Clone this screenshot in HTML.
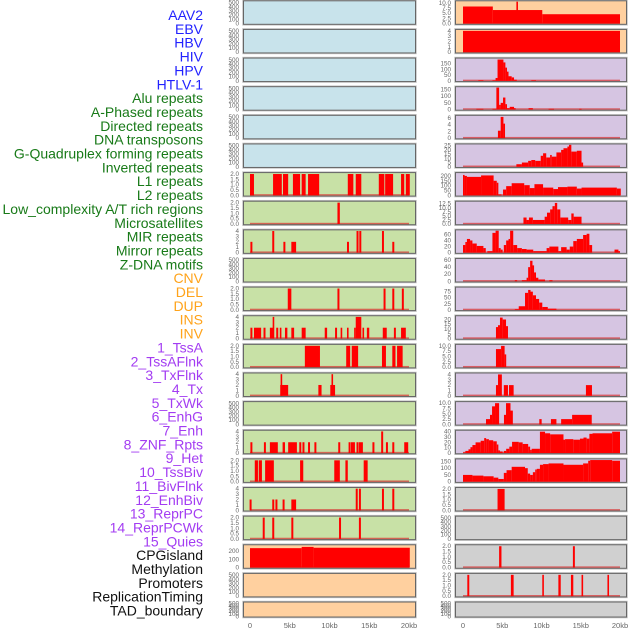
<!DOCTYPE html>
<html><head><meta charset="utf-8">
<style>
html,body{margin:0;padding:0;background:#fff;}
svg{display:block;}
.lbl{font-family:"Liberation Sans",sans-serif;font-size:14px;}
.tk{font-family:"Liberation Sans",sans-serif;font-size:6.3px;fill:#666;}
.xt{font-family:"Liberation Sans",sans-serif;font-size:7.5px;fill:#666;}
</style></head>
<body>
<svg id="chart" width="630" height="630" viewBox="0 0 630 630" xmlns="http://www.w3.org/2000/svg"></svg>
<script>
// ---- labels ----
const trackLabels = ["AAV2","EBV","HBV","HIV","HPV","HTLV-1","Alu repeats","A-Phased repeats","Directed repeats","DNA transposons","G-Quadruplex forming repeats","Inverted repeats","L1 repeats","L2 repeats","Low_complexity A/T rich regions","Microsatellites","MIR repeats","Mirror repeats","Z-DNA motifs","CNV","DEL","DUP","INS","INV","1_TssA","2_TssAFlnk","3_TxFlnk","4_Tx","5_TxWk","6_EnhG","7_Enh","8_ZNF_Rpts","9_Het","10_TssBiv","11_BivFlnk","12_EnhBiv","13_ReprPC","14_ReprPCWk","15_Quies","CPGisland","Methylation","Promoters","ReplicationTiming","TAD_boundary"];
const labelGroups = [6,13,5,15,5];
const xTickLabels = ["0","5kb","10kb","15kb","20kb"];
const xTickValues = [0,5,10,15,20];

// ---- left column data: [startKb, endKb, value] ----
const L6 = [[0,0.5,2],[2.9,4.0,2],[4.15,4.8,2],[5.4,6.3,2],[6.5,7.0,2],[7.3,8.7,2],[12.3,13.0,2],[13.3,14.0,2],[16.2,16.9,2],[17.0,18.0,2],[19.0,19.4,2],[19.6,20.1,2]];
const L7 = [[11.0,11.3,2]];
const L8 = [[0.05,0.3,2],[2.8,3.05,4],[4.2,4.45,2],[5.2,5.8,2],[12.2,12.45,2],[13.4,13.65,4],[13.75,14.0,4],[16.6,16.85,4],[17.9,18.15,2]];
const L10 = [[4.75,5.2,2],[11.0,11.25,2],[16.8,17.05,2],[17.9,18.15,2],[19.1,19.35,2]];
const L11 = [[0.05,0.3,2],[0.5,1.4,2],[1.7,1.95,2],[2.5,3.0,2],[2.85,3.05,4],[3.3,3.55,2],[3.75,3.95,2],[4.4,4.7,2],[5.2,5.55,2],[6.5,7.0,2],[9.4,9.7,2],[10.7,10.95,2],[11.4,11.6,2],[12.2,12.4,2],[13.1,13.3,2],[13.3,14.0,4],[14.15,14.35,2],[14.7,15.0,2],[16.7,17.2,2],[18.1,18.35,2],[19.0,19.6,2]];
const L12 = [[6.9,8.8,2],[12.1,12.6,2],[12.8,13.6,2],[16.6,17.1,2],[17.9,18.3,2],[18.5,19.2,2]];
const L13 = [[3.8,4.8,2],[3.85,4.05,4],[8.6,9.0,2],[10.1,10.7,2],[10.25,10.45,4]];
const L15 = [[0.05,0.3,2],[1.75,2.0,2],[2.5,3.5,2],[4.1,4.4,2],[4.8,5.9,2],[6.2,6.45,2],[6.6,6.85,2],[7.3,7.55,2],[8.1,8.35,2],[11.1,11.35,2],[12.4,12.65,2],[12.7,13.2,2],[13.4,13.65,2],[13.7,14.2,2],[15.4,15.65,2],[16.5,16.75,4],[17.1,17.35,2],[17.9,18.15,2],[19.4,19.9,2]];
const L16 = [[0.6,1.0,2],[1.1,1.5,2],[1.9,3.0,2],[6.3,6.7,2],[10.6,11.3,2],[12.0,12.3,2],[14.3,14.8,2]];
const L17 = [[-0.05,0.2,2],[2.8,3.05,2],[3.2,3.45,2],[4.1,4.35,2],[5.2,5.8,2],[13.3,13.55,4],[13.7,13.95,4],[16.6,16.85,4],[17.9,18.15,4]];
const L18 = [[1.6,1.85,2],[2.8,3.05,2],[5.2,5.45,2],[11.2,11.45,2],[13.7,13.95,2]];
const L19 = [[0,6.5,235],[6.5,8.0,250],[8.0,20.1,240]];

// ---- right column data ----
const R0 = [[0,3.8,8.2],[3.8,10.1,6.5],[6.8,7.0,10.5],[10.1,20,4.5]];
const R1 = [[0,20,4]];
const R2 = [[1.95,2.6,5],[3.75,4.15,5],[4.15,4.4,25],[4.4,5.15,185],[5.15,5.4,160],[5.4,5.55,115],[5.55,5.8,80],[5.8,6.2,40],[6.2,6.5,30],[6.5,6.85,10],[8.7,9.3,5]];
const R3 = [[1.7,2.6,5],[3.75,4.25,5],[4.25,4.6,165],[4.6,4.8,35],[4.8,5.1,50],[5.1,5.4,90],[5.4,5.6,40],[5.6,5.95,10],[5.95,6.5,20],[6.5,6.7,10],[8.35,8.9,10],[10.9,11.6,5],[14.8,15.1,5]];
const R4 = [[4.45,4.8,2.2],[4.8,5.15,6.3],[5.15,5.3,4.3]];
const R5 = [[6.8,7.5,3],[7.5,8.3,5],[8.3,8.7,7],[8.7,9.2,8],[9.2,9.9,7],[9.9,10.2,13],[10.2,10.6,16],[10.6,11.1,11],[11.1,11.3,14],[11.3,11.9,12],[11.9,12.5,17],[12.5,12.8,20],[12.8,13.3,22],[13.3,13.5,24],[13.5,13.8,26],[13.8,14.5,18],[14.5,15.1,19],[15.1,15.3,5]];
const R6 = [[0,0.2,210],[0.2,0.5,200],[0.5,2.3,190],[2.3,3.9,205],[3.9,4.3,150],[4.3,4.5,130],[4.5,4.9,10],[5.1,5.5,60],[5.5,6.2,95],[6.2,7.8,125],[7.8,8.5,105],[8.5,9.1,75],[9.1,10.2,115],[10.2,11.5,80],[11.5,12.1,65],[12.1,13.3,85],[13.3,14.5,90],[14.5,15.1,70],[15.1,19.6,80],[19.6,20.1,70]];
const R7 = [[7.7,8.1,4],[8.1,8.4,2.5],[8.4,8.9,4],[8.9,10.4,2.5],[10.4,10.7,4.5],[10.7,11.1,7],[11.1,11.4,9],[11.4,11.7,11],[11.7,12.0,13],[12.0,12.4,9],[12.4,13.4,4],[13.4,13.8,2.5],[13.8,14.1,6.5],[14.1,15.1,4.5]];
const R8 = [[0,0.3,25],[0.3,0.5,35],[0.5,0.9,45],[0.9,1.2,40],[1.2,1.75,30],[1.75,2.6,22],[2.6,2.9,15],[3.1,3.75,5],[3.75,4.15,65],[4.15,4.55,72],[4.55,4.8,15],[4.8,5.05,10],[5.2,5.5,25],[5.5,5.8,40],[5.8,6.0,45],[6.0,6.4,72],[6.4,6.9,25],[6.9,7.5,15],[7.5,8.1,12],[8.1,8.95,10],[8.95,10.65,5],[10.65,11.0,15],[11.0,12.15,20],[12.15,12.5,5],[12.5,13.2,18],[13.2,13.6,10],[13.6,14.05,20],[14.05,14.5,38],[14.5,15.3,45],[15.3,15.75,58],[15.75,16.1,62],[16.1,16.45,25],[19.3,19.8,10],[19.8,20.0,5]];
const R9 = [[6.6,6.9,3],[7.5,8.1,3],[8.1,8.3,10],[8.3,8.55,40],[8.55,8.85,58],[8.85,9.05,45],[9.05,9.3,25],[9.3,9.6,10],[9.6,10.45,5],[11.0,11.4,3]];
const R10 = [[6.6,7.1,3],[7.1,7.9,15],[7.9,8.3,70],[8.3,8.6,82],[8.6,8.9,75],[8.9,9.3,60],[9.3,9.7,45],[9.7,10.1,30],[10.1,10.8,12],[10.8,11.9,5]];
const R11 = [[4.2,4.46,12],[4.46,4.71,14],[4.71,5.05,22],[5.05,5.48,20],[5.48,5.73,13]];
const R12 = [[4.2,4.85,8.5],[4.85,5.3,10],[5.3,5.5,6]];
const R13 = [[4.2,4.46,2],[4.46,4.95,4],[5.2,5.73,2],[5.86,6.45,2],[15.66,16.43,2]];
const R14 = [[2.93,3.44,2.5],[3.44,3.7,4.5],[3.7,4.08,8.5],[4.08,4.6,10],[5.22,5.48,4.5],[5.48,6.05,10],[6.05,6.35,6.5],[9.72,10.02,2.5],[11.2,11.9,2.5],[12.5,13.9,2.5],[13.9,16.4,4.5]];
const R15 = [[0,0.3,1],[0.3,0.7,4],[0.7,0.95,7],[0.95,1.2,11],[1.2,1.6,15],[1.6,2.25,20],[2.25,2.7,23],[2.7,2.95,28],[2.95,3.3,26],[3.3,3.85,24],[3.85,4.3,22],[4.3,4.5,16],[4.5,4.65,5],[4.65,5.05,3],[5.2,5.5,4],[5.5,5.9,8],[5.9,6.25,12],[6.25,7.1,21],[7.1,7.6,20],[7.6,8.3,17],[8.3,8.55,12],[8.55,8.75,6],[8.75,9.8,8],[9.8,10.45,40],[10.45,11.1,37],[11.1,12.8,35],[12.8,13.0,25],[13.0,14.05,26],[14.05,14.9,25],[14.9,15.35,27],[15.35,15.75,29],[15.75,16.1,27],[16.1,16.5,36],[16.5,19.0,37],[19.0,20.0,40]];
const R16 = [[0,1.2,50],[1.2,2.6,45],[2.6,3.9,40],[3.9,4.5,30],[4.5,5.2,20],[5.2,5.55,65],[5.55,6.2,85],[6.2,7.9,110],[7.9,8.25,100],[8.25,8.55,60],[8.55,8.9,50],[8.9,9.2,70],[9.2,9.4,90],[9.4,9.8,95],[9.8,10.2,125],[10.2,10.9,130],[10.9,12.8,135],[12.8,15.3,125],[15.3,15.95,135],[15.95,16.2,155],[16.2,19.0,160],[19.0,20.0,155]];
const R17 = [[4.4,5.3,2]];
const R19 = [[4.6,4.9,2],[14.0,14.25,2]];
const R20 = [[0.55,0.8,2],[6.1,6.45,2],[10.1,10.3,2],[12.15,12.45,2],[13.75,14.05,2],[15.1,15.3,2],[18.4,18.6,2]];

// ---- tick label sets ----
const T500 = ["0","100","200","300","400","500"];
const T2 = ["0.0","0.5","1.0","1.5","2.0"];
const T4 = ["0","1","2","3","4"];

const BLUE="#c8e3eb", GREEN="#c8e1a6", PEACH="#ffd09f", LAV="#d6c5e2", GRAY="#d0d0d0";
const panels = [];
for (let r=0;r<6;r++) panels.push([0,r,BLUE,520,T500,null]);
panels.push([0,6,GREEN,2.05,T2,L6]);
panels.push([0,7,GREEN,2.05,T2,L7]);
panels.push([0,8,GREEN,4.05,T4,L8]);
panels.push([0,9,GREEN,520,T500,null]);
panels.push([0,10,GREEN,2.05,T2,L10]);
panels.push([0,11,GREEN,4.05,T4,L11]);
panels.push([0,12,GREEN,2.05,T2,L12]);
panels.push([0,13,GREEN,4.05,T4,L13]);
panels.push([0,14,GREEN,520,T500,null]);
panels.push([0,15,GREEN,4.05,T4,L15]);
panels.push([0,16,GREEN,2.05,T2,L16]);
panels.push([0,17,GREEN,4.05,T4,L17]);
panels.push([0,18,GREEN,2.05,T2,L18]);
panels.push([0,19,PEACH,265,["0","100","200"],L19]);
panels.push([0,20,PEACH,520,T500,null]);
panels.push([0,21,PEACH,520,T500,null]);
panels.push([1,0,PEACH,10.5,["0.0","2.5","5.0","7.5","10.0"],R0]);
panels.push([1,1,PEACH,4.1,T4,R1]);
panels.push([1,2,LAV,190,["0","50","100","150"],R2]);
panels.push([1,3,LAV,165,["0","50","100","150"],R3]);
panels.push([1,4,LAV,6.5,["0","2","4","6"],R4]);
panels.push([1,5,LAV,26,["0","5","10","15","20","25"],R5]);
panels.push([1,6,LAV,225,["0","50","100","150","200"],R6]);
panels.push([1,7,LAV,13.5,["0.0","2.5","5.0","7.5","10.0","12.5"],R7]);
panels.push([1,8,LAV,72,["0","20","40","60"],R8]);
panels.push([1,9,LAV,62,["0","20","40","60"],R9]);
panels.push([1,10,LAV,90,["0","25","50","75"],R10]);
panels.push([1,11,LAV,23,["0","5","10","15","20"],R11]);
panels.push([1,12,LAV,10.3,["0.0","2.5","5.0","7.5","10.0"],R12]);
panels.push([1,13,LAV,4.1,T4,R13]);
panels.push([1,14,LAV,10.3,["0.0","2.5","5.0","7.5","10.0"],R14]);
panels.push([1,15,LAV,41,["0","10","20","30","40"],R15]);
panels.push([1,16,LAV,162,["0","50","100","150"],R16]);
panels.push([1,17,GRAY,2.05,T2,R17]);
panels.push([1,18,GRAY,520,T500,null]);
panels.push([1,19,GRAY,2.05,T2,R19]);
panels.push([1,20,GRAY,2.05,T2,R20]);
panels.push([1,21,GRAY,520,T500,null]);

const NS="http://www.w3.org/2000/svg";
const svg=document.getElementById('chart');
function mk(tag,attrs,parent){const e=document.createElementNS(NS,tag);for(const k in attrs)e.setAttribute(k,attrs[k]);(parent||svg).appendChild(e);return e;}

const COLS=[{x0:243,x1:416,z:250,k:7.95,tx:239},{x0:455,x1:627,z:463,k:7.85,tx:451}];
function xScale(c,kb){return COLS[c].z+kb*COLS[c].k;}
function rowTop(r){return r*28.63+0.3;}
function rowH(r){return r===21?16:24.5;}

const labelColors=["#2222ff","#187a18","#ffa31a","#a33cf2","#111111"];
let gi=0,cnt=0;
const lg=mk('g',{});


trackLabels.forEach((t,i)=>{
  while(cnt>=labelGroups[gi]){gi++;cnt=0;}
  cnt++;
  const e=mk('text',{x:203,y:20+i*13.85,'text-anchor':'end','class':'lbl',fill:labelColors[gi]},lg);
  e.textContent=t;
  
  
});

panels.forEach(p=>{
  const [c,r,bg,ymax,ticks,data]=p;
  const col=COLS[c], T=rowTop(r), H=rowH(r);
  const g=mk('g',{});
  
  
  const base=T+H-1.2, span=H-2.6;
  const yScale=v=>base-Math.min(v,ymax)/ymax*span;
  const bgR=mk('rect',{x:col.x0,y:T,width:col.x1-col.x0,height:H,fill:bg,stroke:'#c4c4c4','stroke-width':1.5},g);
  
  
  if(data){
    const bl=mk('rect',{x:xScale(c,0),y:base-1.2,width:xScale(c,20)-xScale(c,0),height:1.6,fill:'#d83030','fill-opacity':0.7},g);
    
    
    data.forEach(d=>{
      const x0=xScale(c,d[0]),x1=xScale(c,d[1]);
      const w=Math.max(x1-x0,1.6);
      const b=mk('rect',{x:x0,y:yScale(d[2]),width:w,height:base-yScale(d[2]),fill:'#ff0000'},g);
      
      
    });
  }
  mk('rect',{x:col.x0+0.5,y:T+0.5,width:col.x1-col.x0-1,height:H-1,fill:'none',stroke:'#666','stroke-width':1},g);
  ticks.forEach((t)=>{
    const v=parseFloat(t);
    const yy=base-v/ymax*span;
    const e=mk('text',{x:col.tx,y:yy+2,'text-anchor':'end','class':'tk'},g);
    e.textContent=t;
    
    
  });
});

[0,1].forEach(c=>{
  const g=mk('g',{});
  
  
  xTickValues.forEach((v,i)=>{
    const e=mk('text',{x:xScale(c,v),y:628,'text-anchor':'middle','class':'xt'},g);
    e.textContent=xTickLabels[i];
    
    
  });
});
</script>
</body></html>
